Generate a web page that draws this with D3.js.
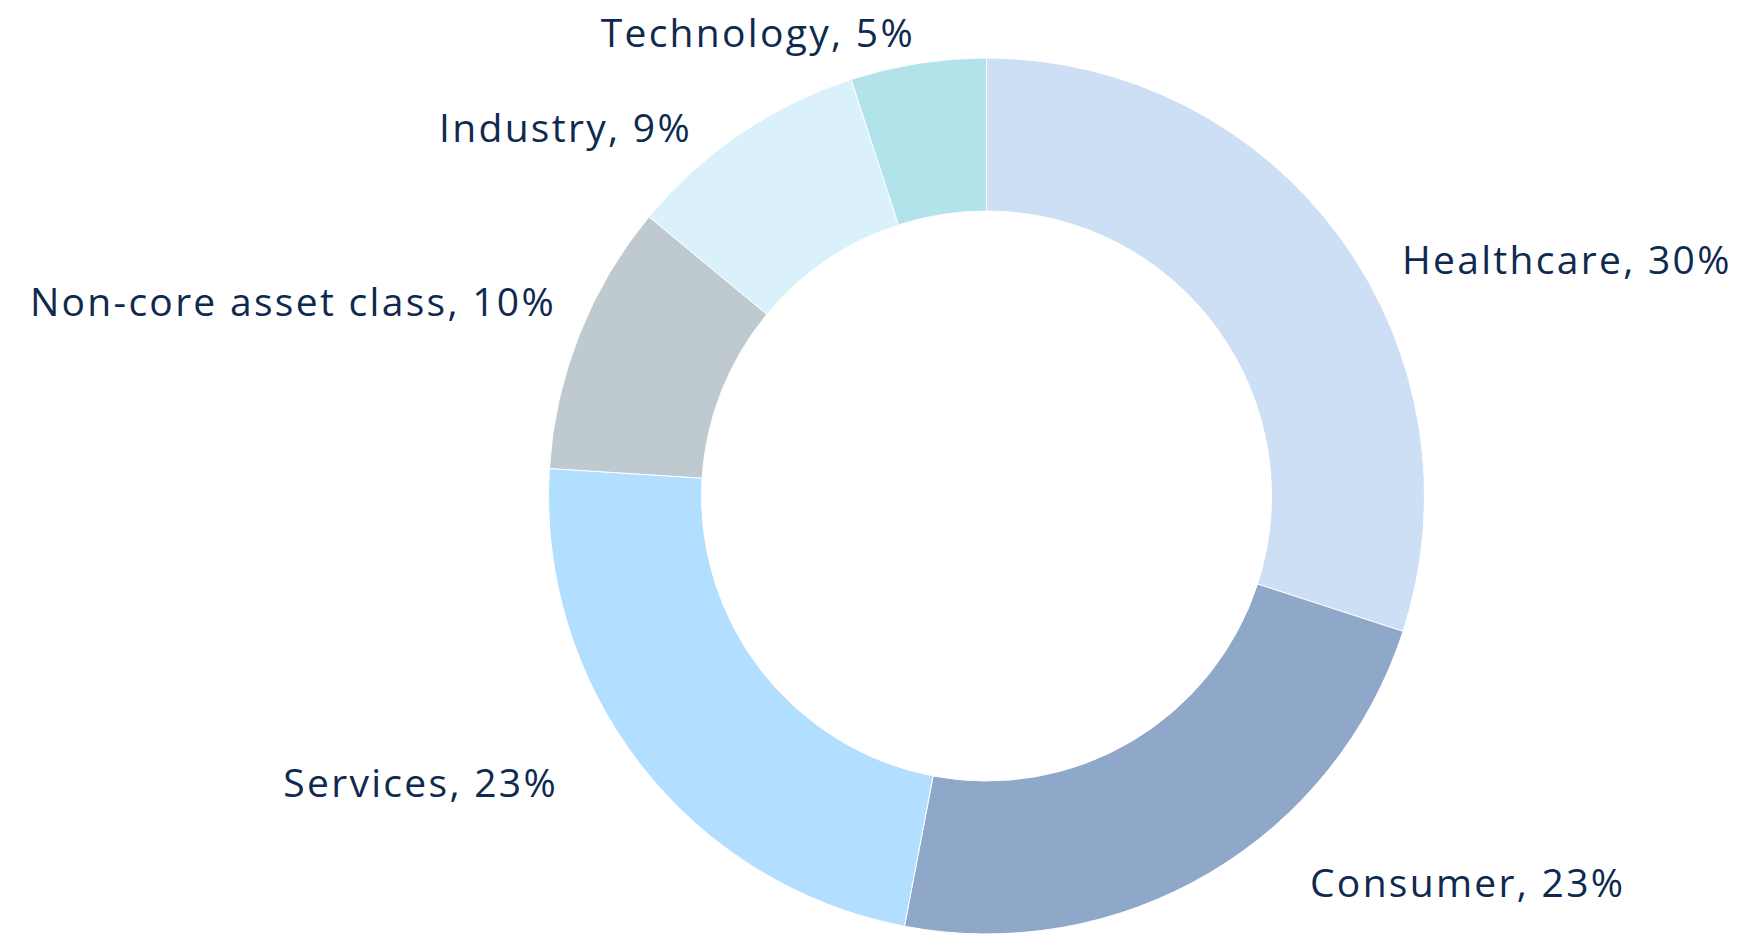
<!DOCTYPE html>
<html>
<head>
<meta charset="utf-8">
<script src="https://cdn.jsdelivr.net/npm/d3@7"></script>
<style>
  html, body { margin: 0; padding: 0; background: #ffffff; }
  svg { display: block; }
  .label { font-family: "Open Sans", sans-serif; fill: #0f2a4f; letter-spacing: 2.3px; }
</style>
</head>
<body>
<svg id="chart" width="1745" height="937"></svg>
<script>
// Sector allocation, percent of portfolio
const categories = ["Healthcare", "Consumer", "Services", "Non-core asset class", "Industry", "Technology"];
const shares = [30, 23, 23, 10, 9, 5];
const colors = ["#cddff4", "#8fa7c8", "#b2deff", "#bec9d0", "#daf0fb", "#b3e3ea"];

// Layout
const width = 1745, height = 937;
const cx = 986.5, cy = 496;
const outerR = 438, innerR = 285;
// Label anchor points (x, baseline y) and which side the text runs from
const labelAnchors = [
  { x: 1402, y: 274, anchor: "start" },
  { x: 1310, y: 897, anchor: "start" },
  { x: 558,  y: 797, anchor: "end" },
  { x: 556,  y: 316, anchor: "end" },
  { x: 692,  y: 142, anchor: "end" },
  { x: 915,  y: 47,  anchor: "end" }
];

const data = categories.map((c, i) => ({ category: c, value: shares[i] }));

const svg = d3.select("#chart");
const g = svg.append("g").attr("transform", `translate(${cx},${cy})`);

const pie = d3.pie().value(d => d.value).sort(null);
const arc = d3.arc().innerRadius(innerR).outerRadius(outerR);
const color = d3.scaleOrdinal().domain(categories).range(colors);

g.selectAll("path.slice")
  .data(pie(data))
  .join("path")
  .attr("class", "slice")
  .attr("d", arc)
  .attr("fill", d => color(d.data.category))
  .attr("stroke", "#ffffff")
  .attr("stroke-width", 1);

const fmt = d3.format("d");
svg.selectAll("text.label")
  .data(data)
  .join("text")
  .attr("class", "label")
  .attr("x", (d, i) => labelAnchors[i].x)
  .attr("y", (d, i) => labelAnchors[i].y)
  .attr("text-anchor", (d, i) => labelAnchors[i].anchor)
  .attr("font-size", 39)
  .text(d => `${d.category}, ${fmt(d.value)}%`);
</script>
</body>
</html>
